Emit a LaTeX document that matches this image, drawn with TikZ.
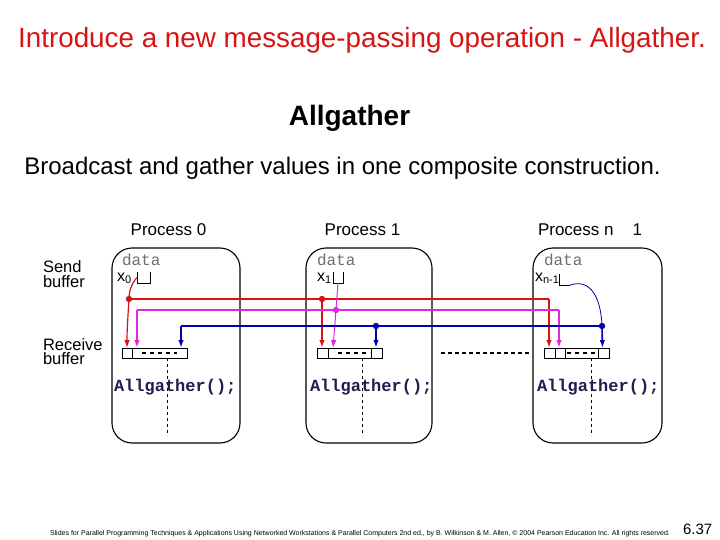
\documentclass[tikz,border=0pt]{standalone}
\usepackage{fontspec}
\setmainfont{Liberation Sans}
\setmonofont{Liberation Mono}
\usetikzlibrary{arrows.meta}
\definecolor{titlered}{RGB}{215,20,20}
\definecolor{lred}{RGB}{215,20,20}
\definecolor{lmag}{RGB}{225,40,225}
\definecolor{lblue}{RGB}{0,0,170}
\definecolor{codeblue}{RGB}{30,30,80}
\definecolor{datagray}{RGB}{110,110,110}
\newcommand{\subx}[1]{\textsubscript{\fontsize{11}{11}\selectfont #1}}
\begin{document}
\begin{tikzpicture}[x=1pt,y=-1pt,
  every node/.style={inner sep=0pt,outer sep=0pt},
  proc/.style={draw,line width=1.1pt,rounded corners=20pt,minimum height=195pt},
  cell/.style={draw,line width=0.8pt,minimum height=10pt,anchor=north west},
  sbuf/.style={minimum width=#1,minimum height=11pt,anchor=north west},
  lbl/.style={font=\fontsize{17}{17}\selectfont,anchor=base},
  side/.style={font=\fontsize{16.5}{14}\selectfont,anchor=base west,align=left},
  datatxt/.style={font=\ttfamily\fontsize{16}{16}\selectfont,text=datagray,anchor=base west},
  vartxt/.style={font=\fontsize{16}{16}\selectfont,anchor=base west},
  code/.style={font=\ttfamily\bfseries\fontsize{17}{17}\selectfont,text=codeblue,anchor=base west},
  tip/.style={-{Latex[length=8pt,width=5.5pt]}},
  rthin/.style={draw=lred,line width=1.2pt},
  rdrop/.style={draw=lred,line width=1.8pt,tip},
  mthick/.style={draw=lmag,line width=2.2pt},
  mdrop/.style={draw=lmag,line width=1.6pt,tip},
  bthick/.style={draw=lblue,line width=2.2pt},
  bdrop/.style={draw=lblue,line width=1.6pt,tip},
  vdash/.style={draw,line width=0.8pt,dash pattern=on 3pt off 3pt},
  cdash/.style={draw,line width=1.6pt,dash pattern=on 4pt off 4pt}
]
\useasboundingbox (0,0) rectangle (720,540);
\fill[white] (0,0) rectangle (720,540);

% titles
\node[font=\fontsize{27.8}{28}\selectfont,text=titlered,anchor=base] (title) at (362,48) {Introduce a new message-passing operation - Allgather.};
\node[font=\bfseries\fontsize{28}{28}\selectfont,anchor=base] (head) at (349.5,126) {Allgather};
\node[font=\fontsize{24}{24}\selectfont,anchor=base] (sub) at (342.5,175) {Broadcast and gather values in one composite construction.};

% process labels
\node[lbl] (l0) at (168.5,236) {Process 0};
\node[lbl] (l1) at (362.5,236) {Process 1};
\node[lbl,anchor=base west] (ln) at (538,236) {Process n\hspace{19pt}1};

\node[side] (send) at (43,287) {Send\\buffer};
\node[side] (recv) at (43,364) {Receive\\buffer};

% process boxes
\node[proc,minimum width=128pt] (p0) at (176,345.5) {};
\node[proc,minimum width=126pt] (p1) at (369,345.5) {};
\node[proc,minimum width=129pt] (pn) at (597.5,345.5) {};

% data / variables
\node[datatxt] (d0) at (122,265) {data};
\node[datatxt] (d1) at (317,265) {data};
\node[datatxt] (dn) at (544,265) {data};
\node[vartxt] (x0) at (117,281) {x\subx{0}};
\node[vartxt] (x1) at (317,281) {x\subx{1}};
\node[vartxt] (xn) at (535,281) {x\subx{n-1}};

% send buffers
\node[sbuf=13pt] (sb0) at (137,272) {};
\node[sbuf=10pt] (sb1) at (333,272) {};
\node[sbuf=11pt] (sbn) at (559,274) {};
\draw[line width=0.8pt] (sb0.north west) -- (sb0.south west) -- (sb0.south east) -- (sb0.north east);
\draw[line width=0.8pt] (sb1.north west) -- (sb1.south west) -- (sb1.south east) -- (sb1.north east);
\draw[line width=0.8pt] (sbn.north west) -- (sbn.south west) -- (sbn.south east);

% receive buffers
\node[cell,minimum width=10pt] (c0a) at (122,348) {};
\node[cell,minimum width=55pt] (c0b) at (132,348) {};
\node[cell,minimum width=11pt] (c1a) at (317,348) {};
\node[cell,minimum width=43pt] (c1b) at (328,348) {};
\node[cell,minimum width=11pt] (c1c) at (371,348) {};
\node[cell,minimum width=11pt] (cna) at (544,348) {};
\node[cell,minimum width=10pt] (cnb) at (555,348) {};
\node[cell,minimum width=33pt] (cnc) at (565,348) {};
\node[cell,minimum width=11pt] (cnd) at (598,348) {};
\draw[cdash] (142,353) -- (177,353);
\draw[cdash] (338,353) -- (370,353);
\draw[cdash] (567,353) -- (597,353);

% dashed verticals and gap
\coordinate (v0a) at (167,358); \coordinate (v0b) at (167,436);
\coordinate (v1a) at (362,358); \coordinate (v1b) at (362,436);
\coordinate (vna) at (591,358); \coordinate (vnb) at (591,436);
\draw[vdash] (v0a) -- (v0b);
\draw[vdash] (v1a) -- (v1b);
\draw[vdash] (vna) -- (vnb);
\coordinate (g1) at (441,353); \coordinate (g2) at (531,353);
\draw[line width=1.5pt,dash pattern=on 4pt off 3pt] (g1) -- (g2);

% code
\node[code] (a0) at (114,391) {Allgather();};
\node[code] (a1) at (310,391) {Allgather();};
\node[code] (an) at (537,391) {Allgather();};

% connector coordinates
\coordinate (rd0) at (129,299);
\coordinate (rd1) at (322,299);
\coordinate (rc) at (549,299);
\coordinate (md1) at (336,310);
\coordinate (mc0) at (137,310);
\coordinate (mcn) at (559,310);
\coordinate (bd1) at (376,326);
\coordinate (bdn) at (602,326);
\coordinate (bc0) at (181,326);
\coordinate (e0r) at (127,348);
\coordinate (e0m) at (137,348);
\coordinate (e0b) at (181,348);
\coordinate (e1r) at (322,348);
\coordinate (e1m) at (333,348);
\coordinate (e1b) at (376,348);
\coordinate (enr) at (549,348);
\coordinate (enm) at (559,348);
\coordinate (enb) at (602.5,348);

% red
\draw[rthin] (sb0.west) .. controls (131,284) and (129,292) .. (rd0);
\draw[rthin,tip] (rd0) .. controls (128,315) and (127,330) .. (e0r);
\draw[rthin] (rd0) -- (rc);
\draw[rdrop] (rc) -- (enr);
\draw[rdrop] (rd1) -- (e1r);
\fill[lred] (rd0) circle (3.2pt) (rd1) circle (3.2pt);

% magenta
\draw[mthick] (mc0) -- (mcn);
\draw[mdrop] (mc0) -- (e0m);
\draw[mdrop] (mcn) -- (enm);
\draw[draw=lmag,line width=1pt] (sb1.south) -- (md1);
\draw[draw=lmag,line width=1pt,tip] (md1) -- (e1m);
\fill[lmag] (md1) circle (3.2pt);

% blue
\draw[bthick] (bc0) -- (bdn);
\draw[bdrop] (bc0) -- (e0b);
\draw[bdrop] (bd1) -- (e1b);
\draw[draw=lblue,line width=0.8pt] (sbn.south east) .. controls (592,278) and (601,300) .. (bdn);
\draw[bdrop] (bdn) -- (enb);
\fill[lblue] (bd1) circle (3.2pt) (bdn) circle (3.2pt);

% footer
\node[font=\fontsize{7}{7}\selectfont,anchor=base west] (foot) at (50,535) {Slides for Parallel Programming Techniques \& Applications Using Networked Workstations \& Parallel Computers 2nd ed., by B. Wilkinson \& M. Allen, \textcopyright{} 2004 Pearson Education Inc. All rights reserved.};
\node[font=\fontsize{15}{15}\selectfont,anchor=base west] (pg) at (683,534) {6.37};
\end{tikzpicture}
\end{document}
